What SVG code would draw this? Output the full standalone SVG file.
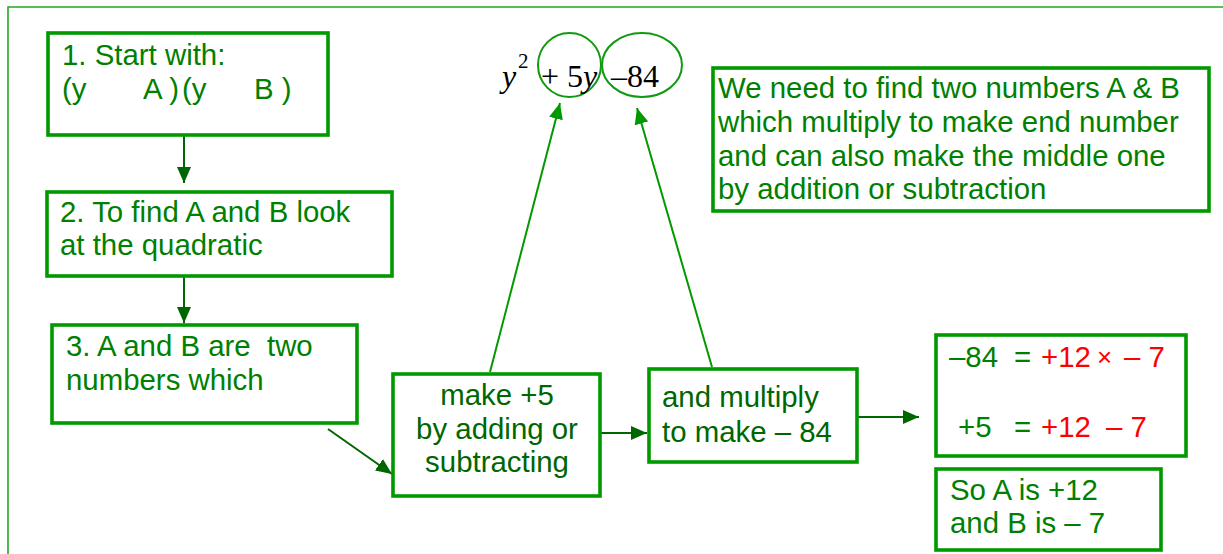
<svg xmlns="http://www.w3.org/2000/svg" width="1223" height="554" viewBox="0 0 1223 554">
  <style>
    .frame { fill: none; stroke: #22a822; stroke-width: 1.6; }
    .box { fill: #ffffff; stroke: #009900; stroke-width: 3.6; }
    .ring { fill: none; stroke: #119911; stroke-width: 2; }
    .t { font-family: "Liberation Sans", Arial, sans-serif; font-size: 29.4px; fill: #008000; }
    .td { fill: #006600; }
    .red { fill: #ff0000; }
    .m { font-family: "Liberation Serif", "Times New Roman", serif; font-size: 32px; fill: #000000; }
    .it { font-style: italic; }
    .dk { stroke: #006600; stroke-width: 2; fill: none; }
    .br { stroke: #009900; stroke-width: 2; fill: none; }
  </style>
  <defs>
    <marker id="ahDark" markerWidth="17" markerHeight="14" refX="16" refY="7" orient="auto" markerUnits="userSpaceOnUse">
      <path d="M0,0 L16,7 L0,14 Z" fill="#006600"/>
    </marker>
    <marker id="ahBright" markerWidth="17" markerHeight="14" refX="16" refY="7" orient="auto" markerUnits="userSpaceOnUse">
      <path d="M0,0 L16,7 L0,14 Z" fill="#009900"/>
    </marker>
  </defs>

  <rect width="1223" height="554" fill="#ffffff"/>
  <!-- page frame: top and left edges -->
  <path class="frame" d="M8,554 V7 H1223"/>

  <!-- quadratic with the middle and end terms circled -->
  <g id="quadratic">
    <ellipse class="ring" cx="569.5" cy="65" rx="31.5" ry="32"/>
    <ellipse class="ring" cx="642" cy="65" rx="40" ry="32"/>
    <text class="m it" x="502" y="87">y</text>
    <text class="m" x="518" y="68" style="font-size:21px">2</text>
    <text class="m" x="541" y="87">+ 5<tspan class="it">y</tspan></text>
    <text class="m" x="611" y="87">–84</text>
  </g>

  <g id="connectors">
    <line class="dk" x1="184" y1="136" x2="184" y2="183" marker-end="url(#ahDark)"/>
    <line class="dk" x1="184" y1="277" x2="184" y2="323" marker-end="url(#ahDark)"/>
    <line class="dk" x1="328" y1="429" x2="392" y2="474" marker-end="url(#ahDark)"/>
    <line class="dk" x1="601" y1="433" x2="647" y2="433" marker-end="url(#ahDark)"/>
    <line class="dk" x1="840" y1="417" x2="919" y2="417" marker-end="url(#ahDark)"/>
    <line class="br" x1="490" y1="372" x2="560" y2="103" marker-end="url(#ahBright)"/>
    <line class="br" x1="712" y1="367" x2="637" y2="108" marker-end="url(#ahBright)"/>
  </g>

  <g id="step1">
    <rect class="box" x="48" y="33" width="280" height="102"/>
    <text class="t" x="62" y="65">1. Start with:</text>
    <text class="t" y="99"><tspan x="62">(y</tspan><tspan x="143">A )</tspan><tspan x="182">(y</tspan><tspan x="254">B )</tspan></text>
  </g>

  <g id="step2">
    <rect class="box" x="47" y="192" width="345" height="84"/>
    <text class="t" x="60" y="222">2. To find A and B look</text>
    <text class="t" x="60" y="255">at the quadratic</text>
  </g>

  <g id="step3">
    <rect class="box" x="52" y="325" width="305" height="98"/>
    <text class="t" x="66" y="356" xml:space="preserve">3. A and B are  two</text>
    <text class="t" x="66" y="390">numbers which</text>
  </g>

  <g id="make-sum">
    <rect class="box" x="393" y="374" width="207" height="122"/>
    <text class="t td" x="497" y="405" text-anchor="middle">make +5</text>
    <text class="t td" x="497" y="439" text-anchor="middle">by adding or</text>
    <text class="t td" x="497" y="472" text-anchor="middle">subtracting</text>
  </g>

  <g id="make-product">
    <rect class="box" x="649" y="369" width="208" height="93"/>
    <text class="t td" x="662" y="407">and multiply</text>
    <text class="t td" x="662" y="442">to make – 84</text>
  </g>

  <g id="goal">
    <rect class="box" x="713" y="68" width="496" height="143"/>
    <text class="t" x="718" y="98">We need to find two numbers A &amp; B</text>
    <text class="t" x="718" y="132">which multiply to make end number</text>
    <text class="t" x="718" y="166">and can also make the middle one</text>
    <text class="t" x="718" y="199">by addition or subtraction</text>
  </g>

  <g id="check">
    <rect class="box" x="936" y="335" width="250" height="121"/>
    <text class="t" x="949" y="367">–84</text>
    <text class="t" x="1014" y="367">=</text>
    <text class="t red" x="1041" y="367">+12</text>
    <text class="t red" x="1097" y="366" style="font-size:26px;font-weight:300">×</text>
    <text class="t red" x="1124" y="367">– 7</text>
    <text class="t" x="958" y="437">+5</text>
    <text class="t" x="1014" y="437">=</text>
    <text class="t red" x="1041" y="437">+12</text>
    <text class="t red" x="1106" y="437">– 7</text>
  </g>

  <g id="answer">
    <rect class="box" x="936" y="469" width="225" height="81"/>
    <text class="t" x="950" y="500">So A is +12</text>
    <text class="t" x="950" y="533">and B is – 7</text>
  </g>
</svg>
